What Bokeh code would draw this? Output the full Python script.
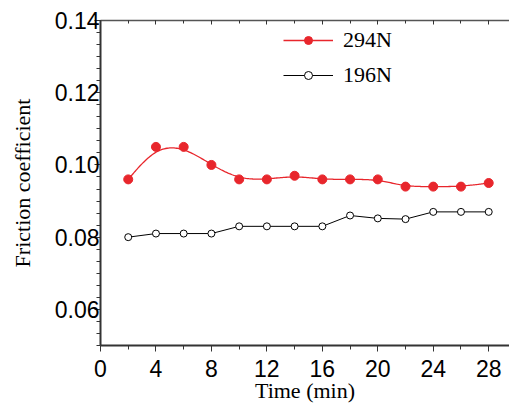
import numpy as np
from bokeh.plotting import figure
from bokeh.models import Range1d, LinearAxis, FixedTicker, Legend, LegendItem
from bokeh.embed import file_html
from bokeh.resources import INLINE

# ---- data ----
time_min = [2, 4, 6, 8, 10, 12, 14, 16, 18, 20, 22, 24, 26, 28]
f_294N = [0.096, 0.105, 0.105, 0.100, 0.096, 0.096, 0.097, 0.096, 0.096, 0.096, 0.094, 0.094, 0.094, 0.095]
f_196N = [0.080, 0.081, 0.081, 0.081, 0.083, 0.083, 0.083, 0.083, 0.086, 0.0852, 0.085, 0.087, 0.087, 0.087]
x_ticks = [0, 4, 8, 12, 16, 20, 24, 28]
y_ticks = [0.06, 0.08, 0.10, 0.12, 0.14]
y_tick_labels = {0.06: "0.06", 0.08: "0.08", 0.10: "0.10", 0.12: "0.12", 0.14: "0.14"}
x_title = "Time (min)"
y_title = "Friction coefficient"

RED = "#e8262c"
AX = "#333333"


def bspline(xs, ys, n=20):
    # clamped uniform cubic B-spline rendering of a polyline (line smoothing style)
    P = np.column_stack([xs, ys]).astype(float)
    P = np.vstack([P[0], P[0], P, P[-1], P[-1]])
    out = []
    for i in range(len(P) - 3):
        p0, p1, p2, p3 = P[i], P[i + 1], P[i + 2], P[i + 3]
        for t in np.linspace(0, 1, n, endpoint=False):
            b0 = (1 - t) ** 3 / 6
            b1 = (3 * t ** 3 - 6 * t ** 2 + 4) / 6
            b2 = (-3 * t ** 3 + 3 * t ** 2 + 3 * t + 1) / 6
            b3 = t ** 3 / 6
            out.append(b0 * p0 + b1 * p1 + b2 * p2 + b3 * p3)
    out.append(P[-1])
    out = np.array(out)
    return out[:, 0], out[:, 1]


p = figure(width=509, height=405, output_backend="svg", toolbar_location=None,
           x_range=Range1d(0, 29.5), y_range=Range1d(0.05, 0.14),
           min_border_left=100, min_border_right=0, min_border_top=20, min_border_bottom=56,
           x_axis_location="below", y_axis_location="left")
p.outline_line_color = None
p.grid.visible = False
p.background_fill_color = "white"

# axes styling
xa = p.xaxis[0]
xa.ticker = FixedTicker(ticks=x_ticks, minor_ticks=list(range(0, 30, 2)))
xa.axis_line_color = AX
xa.axis_line_width = 2
xa.major_tick_line_color = AX
xa.minor_tick_line_color = AX
xa.major_tick_out = 6
xa.major_tick_in = 0
xa.minor_tick_out = 4
xa.minor_tick_in = 0
xa.major_label_text_font = "Liberation Sans"
xa.major_label_text_font_size = "23px"
xa.major_label_text_color = "black"
xa.major_label_standoff = 8
xa.axis_label = x_title
xa.axis_label_text_font = "Liberation Serif"
xa.axis_label_text_font_style = "normal"
xa.axis_label_text_font_size = "22px"
xa.axis_label_text_color = "black"
xa.axis_label_standoff = -2

ya = p.yaxis[0]
ya.ticker = FixedTicker(ticks=y_ticks, minor_ticks=list(np.round(np.arange(0.05, 0.1401, 0.02 / 6), 5)))
ya.major_label_overrides = y_tick_labels
ya.axis_line_color = AX
ya.axis_line_width = 2
ya.major_tick_line_color = AX
ya.minor_tick_line_color = AX
ya.major_tick_out = 6
ya.major_tick_in = 0
ya.minor_tick_out = 4
ya.minor_tick_in = 0
ya.major_label_text_font = "Liberation Sans"
ya.major_label_text_font_size = "23px"
ya.major_label_text_color = "black"
ya.major_label_standoff = -5
ya.axis_label = y_title
ya.axis_label_text_font = "Liberation Serif"
ya.axis_label_text_font_style = "normal"
ya.axis_label_text_font_size = "22px"
ya.axis_label_text_color = "black"
ya.axis_label_standoff = 17

top = LinearAxis(ticker=FixedTicker(ticks=x_ticks, minor_ticks=list(range(0, 30, 2))),
                 major_label_text_font_size="0px", major_tick_in=4, major_tick_out=0,
                 minor_tick_in=3, minor_tick_out=0, axis_line_color="#555555",
                 major_tick_line_color=AX, minor_tick_line_color=AX, axis_line_width=1.5)
top.major_label_text_color = None
p.add_layout(top, "above")

# series
sx, sy = bspline(time_min, f_294N)
r_line = p.line(sx, sy, line_color=RED, line_width=1.3)
r_pts = p.scatter(time_min, f_294N, marker="circle", size=9, fill_color=RED, line_color=RED)

b_line = p.line(time_min, f_196N, line_color="black", line_width=1)
b_pts = p.scatter(time_min, f_196N, marker="circle", size=7, fill_color="white", line_color="black", line_width=1)

legend = Legend(items=[LegendItem(label="294N", renderers=[r_line, r_pts]),
                       LegendItem(label="196N", renderers=[b_line, b_pts])],
                location=(183, 257), glyph_width=50, glyph_height=20, label_height=20,
                label_standoff=10, spacing=9, padding=0, margin=0,
                border_line_color=None, background_fill_alpha=0,
                label_text_font="Liberation Serif", label_text_font_size="22px",
                label_text_color="black")
p.add_layout(legend)

open("out.html", "w").write(file_html(p, INLINE))
